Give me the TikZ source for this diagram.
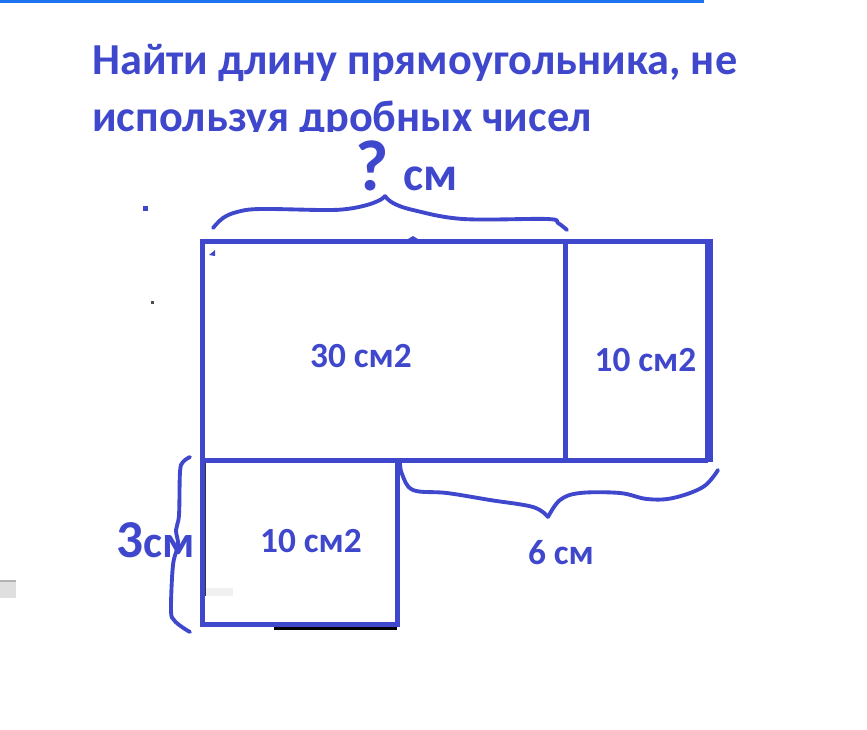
\documentclass[tikz,border=0pt]{standalone}
\usepackage{fontspec}
\setmainfont{Carlito}
\definecolor{ink}{RGB}{63,72,204}
\definecolor{topblue}{RGB}{30,116,240}
\begin{document}
\begin{tikzpicture}[x=0.75pt,y=-0.75pt,
  box/.style={draw=ink, line width=3.75pt, line join=miter},
  brace/.style={draw=ink, line width=2.9pt, line cap=round, line join=round},
  lbl/.style={text=ink, font=\bfseries\fontsize{26.5}{30}\selectfont, inner sep=0pt},
  ttl/.style={text=ink, font=\bfseries\fontsize{33.2}{40}\selectfont, inner sep=0pt, anchor=base west}]
\useasboundingbox (0,0) rectangle (867,729);
% top line
\fill[topblue] (0,0) rectangle (704,2.5);
% title
\node[ttl] (t1) at (92,74) {Найти длину прямоугольника, не};
\begin{scope}
\clip (0,80) rectangle (867,131);
\node[ttl] (t2) at (92,131) {используя дробных чисел};
\end{scope}
% question label
\node[text=ink, font=\bfseries\fontsize{54}{60}\selectfont, inner sep=0pt, anchor=base west] (q) at (355,190) {?};
\node[text=ink, font=\bfseries\fontsize{36}{40}\selectfont, inner sep=0pt, anchor=base west] (qcm) at (403,190) {см};
% artifacts
\fill[gray!25] (0,580) rectangle (16,598);
\fill[gray!60] (0,580) rectangle (16,582);
\fill[ink] (143,206) rectangle (148,211);
\fill[black!70] (151,301) rectangle (154,304);
\fill[black] (274,626.5) rectangle (397,630);
\fill[black!80] (204,462) rectangle (206,596);
\fill[gray!12] (206,588) rectangle (233,596);
% rectangles
\draw[box] (202.5,241) rectangle (565,460);
\draw[box] (565,241) -- (708,241);
\draw[box] (565,460) -- (708,460);
\draw[ink, line width=5.3pt] (709,238.5) -- (709,462);
\draw[box] (202.5,460) rectangle (397,624);
\fill[ink] (408,239) -- (413,236) -- (418,239) -- cycle;
\fill[ink] (209,255) -- (215,250) -- (215,256) -- cycle;
% labels
\node[lbl] (a30) at (361,356.5) {30 см2};
\node[lbl] (a10r) at (645.5,360) {10 см2};
\node[lbl] (a10s) at (311,541) {10 см2};
\node[lbl] (l6) at (561,552.5) {6 см};
\node[text=ink, inner sep=0pt, anchor=base west] (l3) at (116,557) {\bfseries\fontsize{40}{44}\selectfont 3\fontsize{34}{40}\selectfont см};
% braces
\draw[brace] plot[smooth, tension=0.6] coordinates {(213,228) (223,218) (237,212) (260,209) (323,210) (347,209) (367,205) (380,200) (385,196)};
\draw[brace] plot[smooth, tension=0.6] coordinates {(385,196) (393,203) (413,210) (463,219) (547,219) (558,223) (567,230)};
\draw[brace] plot[smooth, tension=0.6] coordinates {(400,463) (402,474) (413,490) (447,493) (490,500) (533,507) (548,517)};
\draw[brace] plot[smooth, tension=0.6] coordinates {(548,517) (560,500) (580,493) (620,493) (647,499) (673,498) (703,487) (718,470)};
\draw[brace] plot[smooth, tension=0.6] coordinates {(190,457) (183,462) (180,472) (179,515) (176,530) (178,545) (173,565) (171,610) (174,620) (182,627) (190,632)};
\end{tikzpicture}
\end{document}
